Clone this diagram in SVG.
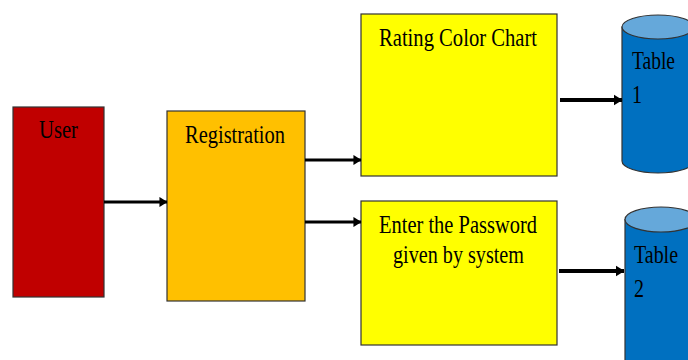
<svg xmlns="http://www.w3.org/2000/svg" width="688" height="360" viewBox="0 0 688 360">
<defs>
<style>
.box{stroke:#333;stroke-width:1.2}
.lbl{font-family:"Liberation Serif","Times New Roman",serif;font-size:25px;fill:#000}
.conn{stroke:#000;stroke-width:3;fill:none}
.conn2{stroke:#000;stroke-width:4;fill:none}
.cylbody{fill:#0070C0;stroke:#333;stroke-width:1.2}
.cyltop{fill:#65A8DA;stroke:#333;stroke-width:1.2}
</style>
<marker id="ah" viewBox="0 0 8 10" refX="7.5" refY="5" markerWidth="2.7" markerHeight="3.4" orient="auto" markerUnits="strokeWidth">
<path d="M0,0 L8,5 L0,10 z" fill="#000"/>
</marker>
<marker id="ah2" viewBox="0 0 8 10" refX="7.5" refY="5" markerWidth="2.2" markerHeight="3" orient="auto" markerUnits="strokeWidth">
<path d="M0,0 L8,5 L0,10 z" fill="#000"/>
</marker>
</defs>
<rect width="688" height="360" fill="#fff"/>
<g id="user">
<rect class="box" x="13" y="107" width="91" height="190" fill="#C00000"/>
<text class="lbl" x="39" y="138" textLength="39" lengthAdjust="spacingAndGlyphs">User</text>
</g>
<g id="registration">
<rect class="box" x="167" y="111" width="138" height="190" fill="#FFC000"/>
<text class="lbl" x="185" y="143" textLength="100" lengthAdjust="spacingAndGlyphs">Registration</text>
</g>
<g id="rating">
<rect class="box" x="361" y="14" width="196" height="162" fill="#FFFF00"/>
<text class="lbl" x="379" y="46" textLength="158" lengthAdjust="spacingAndGlyphs">Rating Color Chart</text>
</g>
<g id="password">
<rect class="box" x="361" y="201" width="196" height="144" fill="#FFFF00"/>
<text class="lbl" x="379" y="233" textLength="158" lengthAdjust="spacingAndGlyphs">Enter the Password</text>
<text class="lbl" x="393" y="263" textLength="131" lengthAdjust="spacingAndGlyphs">given by system</text>
</g>
<g id="table1">
<path class="cylbody" d="M622,27 L622,161 A36,12 0 0 0 694,161 L694,27 Z"/>
<ellipse class="cyltop" cx="658" cy="27" rx="36" ry="12"/>
<text class="lbl" x="632" y="69" textLength="43" lengthAdjust="spacingAndGlyphs">Table</text>
<text class="lbl" x="632" y="103" textLength="10" lengthAdjust="spacingAndGlyphs">1</text>
</g>
<g id="table2">
<path class="cylbody" d="M625,219.5 L625,370 L697,370 L697,219.5 Z"/>
<ellipse class="cyltop" cx="661" cy="219.5" rx="36" ry="12.5"/>
<text class="lbl" x="634" y="263" textLength="44" lengthAdjust="spacingAndGlyphs">Table</text>
<text class="lbl" x="634" y="297" textLength="10" lengthAdjust="spacingAndGlyphs">2</text>
</g>
<g id="connectors">
<line class="conn" x1="104" y1="202" x2="167" y2="202" marker-end="url(#ah)"/>
<line class="conn" x1="305" y1="160" x2="361" y2="160" marker-end="url(#ah)"/>
<line class="conn" x1="305" y1="222" x2="361" y2="222" marker-end="url(#ah)"/>
<line class="conn2" x1="560" y1="100" x2="622" y2="100" marker-end="url(#ah2)"/>
<line class="conn2" x1="559" y1="271" x2="624" y2="271" marker-end="url(#ah2)"/>
</g>
</svg>
